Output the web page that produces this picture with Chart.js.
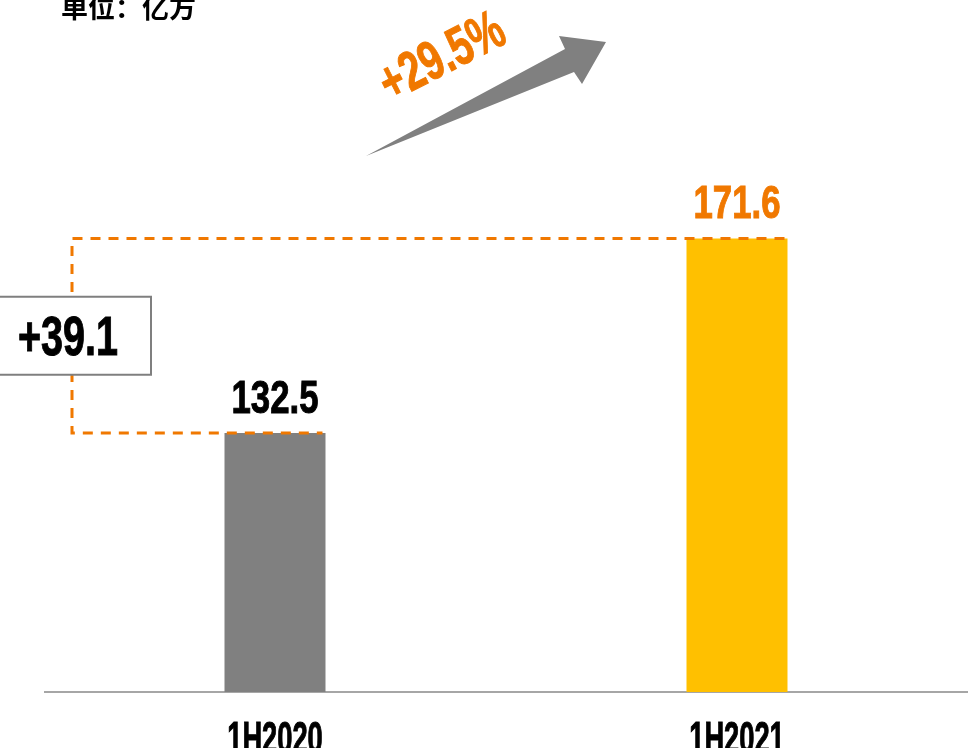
<!DOCTYPE html>
<html lang="zh">
<head>
  <meta charset="UTF-8"/>
  <title>1H2020 vs 1H2021</title>
  <script src="https://cdn.jsdelivr.net/npm/chart.js"></script>
  <style>
    html, body {
      margin: 0;
      padding: 0;
      background: #fff;
      overflow: hidden;
    }
    .chart-box {
      width: 968px;
      height: 748px;
    }
  </style>
</head>
<body>

<div class="chart-box">
  <canvas id="volumeChart" width="968" height="748"></canvas>
</div>

<script>
  // data
  const categories = ["1H2020", "1H2021"];
  const volumes = [132.5, 171.6];
  const deltaLabel = "+39.1";
  const growthLabel = "+29.5%";
  const unitLabel = "单位：亿方";

  const barColors = ["#808080", "#FFC000"];
  const valueColors = ["#000000", "#F07800"];
  const ORANGE = "#F07800";
  const NUM_FONT = '"Liberation Sans", Arial, sans-serif';

  // narrow bold text, to get close to the Impact look of the original
  function squeezedText(ctx, text, x, y, size, color, squeeze, align) {
    ctx.save();
    ctx.font = "bold " + size + "px " + NUM_FONT;
    ctx.fillStyle = color;
    ctx.strokeStyle = color;
    ctx.lineWidth = 1;
    ctx.textAlign = align || "center";
    ctx.textBaseline = "alphabetic";
    ctx.translate(x, y);
    ctx.scale(squeeze, 1);
    ctx.fillText(text, 0, 0);
    ctx.strokeText(text, 0, 0);
    ctx.restore();
  }

  const decorations = {
    id: "decorations",
    beforeDatasetsDraw(chart) {
      const ctx = chart.ctx;
      const area = chart.chartArea;
      // baseline
      ctx.save();
      ctx.strokeStyle = "#a6a6a6";
      ctx.lineWidth = 2;
      ctx.beginPath();
      ctx.moveTo(area.left, area.bottom);
      ctx.lineTo(chart.width, area.bottom);
      ctx.stroke();
      ctx.restore();
    },
    afterDatasetsDraw(chart) {
      const ctx = chart.ctx;
      const area = chart.chartArea;
      const y = chart.scales.y;
      const bars = chart.getDatasetMeta(0).data;

      const yLow = y.getPixelForValue(volumes[0]);
      const yHigh = y.getPixelForValue(volumes[1]);
      const lineX = 72;

      // orange dashed bracket between the two bar tops
      ctx.save();
      ctx.strokeStyle = ORANGE;
      ctx.lineWidth = 3;
      ctx.setLineDash([10, 8]);
      ctx.beginPath();
      ctx.moveTo(bars[1].x + bars[1].width / 2 - 3, yHigh);
      ctx.lineTo(lineX, yHigh);
      ctx.lineTo(lineX, yLow);
      ctx.lineTo(bars[0].x + bars[0].width / 2 - 3, yLow);
      ctx.stroke();
      ctx.restore();

      // difference box
      const midY = (yLow + yHigh) / 2;
      ctx.save();
      ctx.fillStyle = "#fff";
      ctx.strokeStyle = "#7f7f7f";
      ctx.lineWidth = 2;
      ctx.fillRect(-2, midY - 39, 153, 78);
      ctx.strokeRect(-2, midY - 39, 153, 78);
      ctx.restore();
      squeezedText(ctx, deltaLabel, 68, midY + 19, 55, "#000", 0.72);

      // value labels
      bars.forEach((bar, i) => {
        squeezedText(ctx, volumes[i].toFixed(1), bar.x, bar.y - 20, 47, valueColors[i], 0.74);
      });

      // category labels
      bars.forEach((bar, i) => {
        squeezedText(ctx, categories[i], bar.x, area.bottom + 61, 44, "#000", 0.62);
      });

      // growth arrow
      ctx.save();
      ctx.fillStyle = "#808080";
      ctx.beginPath();
      ctx.moveTo(366, 156);
      ctx.lineTo(565, 49);
      ctx.lineTo(559, 36);
      ctx.lineTo(606, 42);
      ctx.lineTo(582, 84);
      ctx.lineTo(574, 72);
      ctx.closePath();
      ctx.fill();
      ctx.restore();

      ctx.save();
      ctx.translate(441, 55);
      ctx.rotate(-27 * Math.PI / 180);
      squeezedText(ctx, growthLabel, 0, 19, 55, ORANGE, 0.71);
      ctx.restore();

      // unit
      ctx.save();
      ctx.font = 'bold 27px "Noto Sans CJK SC", sans-serif';
      ctx.fillStyle = "#000";
      ctx.textAlign = "left";
      ctx.textBaseline = "middle";
      ctx.fillText(unitLabel, 61, 8);
      ctx.restore();
    }
  };

  const ctx = document.getElementById("volumeChart").getContext("2d");
  new Chart(ctx, {
    type: "bar",
    data: {
      labels: categories,
      datasets: [{
        data: volumes,
        backgroundColor: barColors,
        borderWidth: 0,
        categoryPercentage: 1,
        barPercentage: 0.2186
      }]
    },
    options: {
      responsive: false,
      animation: false,
      layout: {
        padding: { top: 97, bottom: 56, left: 44, right: 0 }
      },
      plugins: {
        legend: { display: false },
        tooltip: { enabled: false }
      },
      scales: {
        x: { display: false },
        y: { display: false, min: 80.5, max: 200 }
      }
    },
    plugins: [decorations]
  });
</script>

</body>
</html>
